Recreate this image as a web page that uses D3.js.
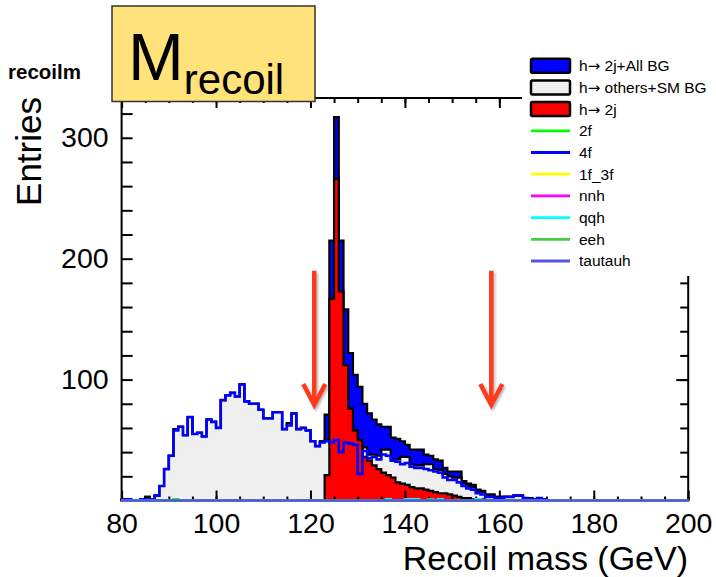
<!DOCTYPE html>
<html><head><meta charset="utf-8">
<script src="https://cdn.jsdelivr.net/npm/d3@7"></script>
<style>
body{margin:0;background:#fff}
svg{display:block}
text{font-family:"Liberation Sans",Arial,Helvetica,sans-serif;fill:#000}
</style>
</head><body>
<svg id="c" width="716" height="577"></svg>
<script>
// ---------------- data (1 GeV bins from 80 to 200 GeV) ----------------
const binStart = 80;
const binWidth = 1;
const xTickLabels = [80, 100, 120, 140, 160, 180, 200];
const yTickLabels = [100, 200, 300];
const cutPositions = [120.8, 158.3];

// h-> 2j + All BG (blue, stacked total)
const totalAll = [
  1,1,0,0,1,3,1,4,12,26,37,59,61,54,69,55,56,53,67,65,
  60,83,87,89,86,96,82,80,80,75,68,68,73,73,59,64,72,59,60,58,
  49,45,49,71,215,317,215,158,122,104,94,80,72,67,63,61,61,52,51,49,
  46,42,42,42,38,37,34,33,27,24,24,24,16,14,13,9,8,5,5,3,
  3,3,3,4,4,2,2,1,2,1,0,0,0,0,0,0,0,0,0,0,
  0,0,0,0,0,0,0,0,0,0,0,0,0,0,0,0,0,0,0,0
];
// h-> others + SM BG (light grey)
const othersBG = [
  1,1,0,0,1,3,1,4,12,26,37,59,61,54,69,55,56,53,67,65,
  60,83,87,89,86,96,82,80,80,75,68,68,73,73,59,64,72,59,60,58,
  49,45,49,50,48,51,42,48,48,46,26,44,38,38,37,42,42,34,34,36,
  36,30,29,29,30,30,26,25,22,20,19,19,14,12,11,8,7,4,4,3,
  3,3,3,4,4,2,2,1,2,1,0,0,0,0,0,0,0,0,0,0,
  0,0,0,0,0,0,0,0,0,0,0,0,0,0,0,0,0,0,0,0
];
// h-> 2j (red)
const signal2j = [
  0,0,0,0,0,0,0,0,0,0,0,0,0,0,0,0,0,0,0,0,
  0,0,0,0,0,0,0,0,0,0,0,0,0,0,0,0,0,0,0,0,
  0,0,0,21,167,266,173,112,76,58,50,36,33,29,26,23,21,19,15,14,
  13,11,10,10,9,8,7,6,6,5,4,3,2,2,1,1,1,0,0,0,
  0,0,0,0,0,0,0,0,0,0,0,0,0,0,0,0,0,0,0,0,
  0,0,0,0,0,0,0,0,0,0,0,0,0,0,0,0,0,0,0,0
];
// individual background lines
const bg2f = [
  0,0,0,0,0,0,0,0,0,0,0,1,0,0,0,0,0,0,0,0,
  0,0,0,0,0,0,0,0,0,0,0,0,0,0,0,0,0,0,0,0,
  0,0,0,0,0,0,0,0,0,0,0,0,0,0,0,0,0,0,0,0,
  0,0,0,0,0,0,0,0,0,0,0,0,0,0,0,0,0,0,0,0,
  0,0,0,0,0,0,0,0,0,0,0,0,0,0,0,0,0,0,0,0,
  0,0,0,0,0,0,0,0,0,0,0,0,0,0,0,0,0,0,0,0
];
const bg4f = [
  1,1,0,0,1,1,1,4,12,26,37,58,61,54,69,55,56,53,67,65,
  60,83,87,89,86,96,82,80,80,75,68,68,73,73,59,62,72,59,60,58,
  49,45,48,49,48,50,40,48,47,46,22,41,35,36,34,38,37,33,32,30,
  31,28,27,27,26,25,24,23,19,17,17,15,12,10,9,6,5,3,3,2,
  2,3,3,4,4,2,1,1,2,1,0,0,0,0,0,0,0,0,0,0,
  0,0,0,0,0,0,0,0,0,0,0,0,0,0,0,0,0,0,0,0
];
const bg1f3f = new Array(120).fill(0);
const bgNnh = new Array(120).fill(0);
const bgQqh = [
  0,0,0,0,0,0,0,0,0,0,0,0,0,0,0,0,0,0,0,0,
  0,0,0,0,0,0,0,0,0,0,0,0,0,0,0,0,0,0,0,0,
  0,0,0,0,0,0,0,0,0,0,0,0,0,0,0,0,1,0,0,0,
  1,1,1,0,0,0,0,1,0,0,0,0,0,0,0,1,0,0,0,0,
  0,0,0,0,0,0,0,0,0,0,0,0,0,0,0,0,0,0,0,0,
  0,0,0,0,0,0,0,0,0,0,0,0,0,0,0,0,0,0,0,0
];
const bgEeh = [
  0,0,0,0,0,0,0,0,0,0,0,0,0,0,0,0,0,0,0,0,
  0,0,0,0,0,0,0,0,0,0,0,0,0,0,0,0,0,0,0,0,
  0,0,0,0,0,0,0,0,0,0,0,0,0,0,0,0,0,0,0,0,
  0,0,0,0,0,1,0,0,0,0,0,0,0,0,0,0,0,0,0,0,
  0,0,0,0,0,0,0,0,0,0,0,0,0,0,0,0,0,0,0,0,
  0,0,0,0,0,0,0,0,0,0,0,0,0,0,0,0,0,0,0,0
];
const bgTautauh = new Array(120).fill(0);

const legendFilled = [
  {label: " 2j+All BG", fill: "#0000ff"},
  {label: " others+SM BG", fill: "#f0f0f0"},
  {label: " 2j", fill: "#ff0000"}
];
const lineSeries = [
  {label: "2f", color: "#00ff00", data: bg2f},
  {label: "4f", color: "#0000ff", data: bg4f},
  {label: "1f_3f", color: "#ffff00", data: bg1f3f},
  {label: "nnh", color: "#ff00ff", data: bgNnh},
  {label: "qqh", color: "#00ffff", data: bgQqh},
  {label: "eeh", color: "#44cc44", data: bgEeh},
  {label: "tautauh", color: "#5555dd", data: bgTautauh}
];

// ---------------- drawing ----------------
const svg = d3.select("#c");
const F = {l: 121.6, r: 688.2, t: 98, b: 500.5};
const x = d3.scaleLinear().domain([80, 200]).range([F.l, F.r]);
const y = d3.scaleLinear().domain([0, 332.9]).range([F.b, F.t]);

const defs = svg.append("defs");
const sh = defs.append("filter").attr("id","shadow").attr("x","-50%").attr("y","-50%").attr("width","200%").attr("height","200%");
sh.append("feDropShadow").attr("dx",1.5).attr("dy",2).attr("stdDeviation",1.2).attr("flood-color","#777").attr("flood-opacity",0.55);

const pts = arr => arr.map((v,i)=>({x: binStart + i*binWidth, v}))
  .concat([{x: binStart + arr.length*binWidth, v: arr[arr.length-1]}]);
const area = d3.area().x(d=>x(d.x)).y0(y(0)).y1(d=>y(d.v)).curve(d3.curveStepAfter);
const line = d3.line().x(d=>x(d.x)).y(d=>y(d.v)).curve(d3.curveStepAfter);

const gH = svg.append("g");
[[totalAll,"#0000ff"],[othersBG,"#f0f0f0"],[signal2j,"#ff0000"]].forEach(([arr,c])=>{
  gH.append("path").attr("d", area(pts(arr))).attr("fill", c)
    .attr("stroke","#000").attr("stroke-width",2.2).attr("stroke-linejoin","miter");
});

// frame
svg.append("rect").attr("x",F.l).attr("y",F.t).attr("width",F.r-F.l).attr("height",F.b-F.t)
  .attr("fill","none").attr("stroke","#000").attr("stroke-width",2);

// axes
function styleAxis(g){ g.select(".domain").remove(); g.selectAll("line").attr("stroke","#000").attr("stroke-width",2); }
function noText(g){ g.selectAll("text").remove(); }
svg.append("g").attr("transform",`translate(0,${F.b})`)
  .call(d3.axisBottom(x).tickValues(d3.range(80,201,5)).tickSizeInner(-4).tickSizeOuter(0))
  .call(styleAxis).call(noText);
const xa = svg.append("g").attr("transform",`translate(0,${F.b})`)
  .call(d3.axisBottom(x).tickValues(xTickLabels).tickSizeInner(-10).tickSizeOuter(0).tickPadding(12))
  .call(styleAxis);
xa.selectAll("text").attr("font-size",28.5).attr("font-family","Liberation Sans, Arial, sans-serif").attr("fill","#000");
svg.append("g").attr("transform",`translate(0,${F.t})`)
  .call(d3.axisTop(x).tickValues(d3.range(80,201,5)).tickSizeInner(-5).tickSizeOuter(0))
  .call(styleAxis).call(noText);
svg.append("g").attr("transform",`translate(0,${F.t})`)
  .call(d3.axisTop(x).tickValues(xTickLabels).tickSizeInner(-10).tickSizeOuter(0))
  .call(styleAxis).call(noText);
const ya = svg.append("g").attr("transform",`translate(${F.l},0)`)
  .call(d3.axisLeft(y).tickValues(d3.range(20,333,20)).tickSizeInner(-11).tickSizeOuter(0)
    .tickPadding(13).tickFormat(d => yTickLabels.includes(d) ? d : ""))
  .call(styleAxis);
ya.selectAll("text").filter(d => !yTickLabels.includes(d)).remove();
ya.selectAll("text").attr("font-size",28.5).attr("font-family","Liberation Sans, Arial, sans-serif").attr("fill","#000");
svg.append("g").attr("transform",`translate(${F.r},0)`)
  .call(d3.axisRight(y).tickValues(d3.range(20,333,20)).tickSizeInner(-8).tickSizeOuter(0))
  .call(styleAxis).call(noText);
svg.append("g").attr("transform",`translate(${F.r},0)`)
  .call(d3.axisRight(y).tickValues(yTickLabels).tickSizeInner(-12).tickSizeOuter(0))
  .call(styleAxis).call(noText);

// individual lines
const gL = svg.append("g");
lineSeries.forEach(s=>{
  gL.append("path").attr("d", line(pts(s.data))).attr("fill","none")
    .attr("stroke", s.color).attr("stroke-width",2.6).attr("stroke-linejoin","miter");
});

// cut arrows
const ga = svg.append("g").attr("filter","url(#shadow)");
cutPositions.forEach(c=>{
  const cx = x(c), top = y(190), tip = y(79);
  ga.append("path").attr("d",`M${cx},${top}V${tip-2}`).attr("stroke","#ff3a1e").attr("stroke-width",4.5).attr("fill","none");
  ga.append("path").attr("d",`M${cx-11},${tip-21}L${cx},${tip}L${cx+11},${tip-21}`)
    .attr("stroke","#ff3a1e").attr("stroke-width",4.5).attr("fill","none").attr("stroke-linejoin","miter");
});

// legend
svg.append("rect").attr("x",522).attr("y",48).attr("width",194).attr("height",228).attr("fill","#fff");
const lg = svg.append("g");
const ly0 = 65.7, ldy = 21.7;
legendFilled.forEach((e,i)=>{
  const yy = ly0 + i*ldy;
  lg.append("rect").attr("x",531).attr("y",yy-7).attr("width",39).attr("height",14).attr("rx",1.5)
    .attr("fill",e.fill).attr("stroke","#000").attr("stroke-width",2.5);
  const t = lg.append("text").attr("x",579).attr("y",yy).attr("dy","0.35em").attr("font-size",15.5);
  t.append("tspan").text("h");
  t.append("tspan").attr("font-family","DejaVu Sans").attr("font-size",15).text("\u2192");
  t.append("tspan").text(e.label);
});
lineSeries.forEach((s,j)=>{
  const yy = ly0 + (j+3)*ldy;
  lg.append("line").attr("x1",531).attr("x2",570).attr("y1",yy).attr("y2",yy)
    .attr("stroke",s.color).attr("stroke-width",2.8);
  lg.append("text").attr("x",579).attr("y",yy).attr("dy","0.35em").attr("font-size",15.5).text(s.label);
});

// title box
svg.append("rect").attr("x",112).attr("y",6).attr("width",203).attr("height",95.5)
  .attr("fill","#ffe27a").attr("stroke","#333").attr("stroke-width",1.5);
const tt = svg.append("text").attr("x",128).attr("y",80);
tt.append("tspan").attr("font-size",67).text("M");
tt.append("tspan").attr("font-size",42).attr("dy",14).text("recoil");

svg.append("text").attr("x",8).attr("y",79).attr("font-size",20.5).attr("font-weight","bold").text("recoilm");

// axis titles
svg.append("text").attr("transform","translate(41,97) rotate(-90)").attr("text-anchor","end")
  .attr("font-size",35).text("Entries");
svg.append("text").attr("x",688).attr("y",570).attr("text-anchor","end").attr("font-size",34).text("Recoil mass (GeV)");
</script>
</body></html>
